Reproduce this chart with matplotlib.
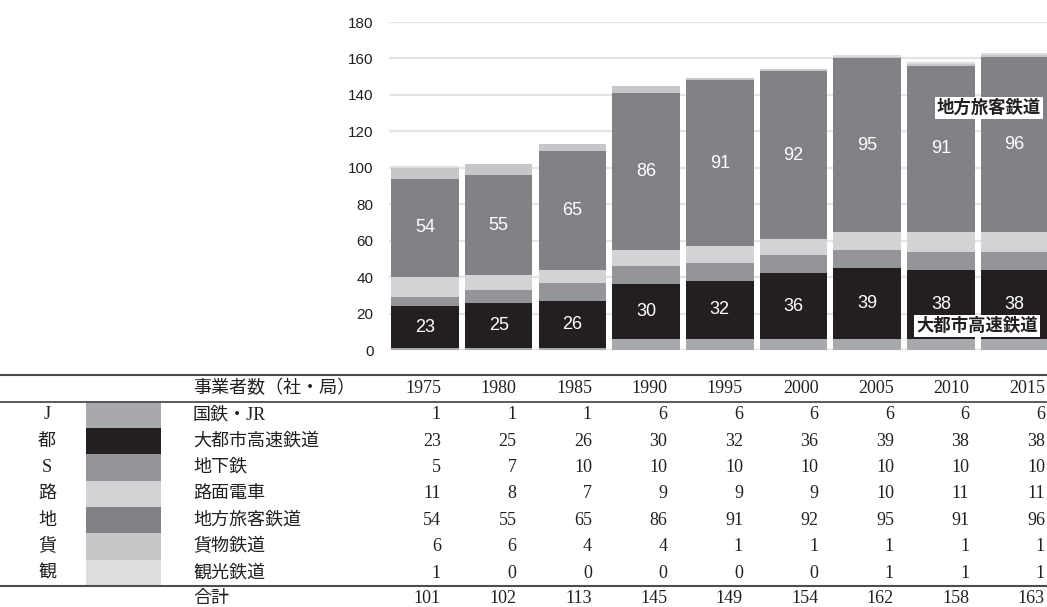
import matplotlib
matplotlib.use("Agg")
import matplotlib.pyplot as plt
import numpy as np

# ---- data ----
years = ["1975", "1980", "1985", "1990", "1995", "2000", "2005", "2010", "2015"]
categories = ["国鉄・JR", "大都市高速鉄道", "地下鉄", "路面電車", "地方旅客鉄道", "貨物鉄道", "観光鉄道"]
short_marks = ["J", "都", "S", "路", "地", "貨", "観"]
jr = [1, 1, 1, 6, 6, 6, 6, 6, 6]
metro_high = [23, 25, 26, 30, 32, 36, 39, 38, 38]
subway = [5, 7, 10, 10, 10, 10, 10, 10, 10]
tram = [11, 8, 7, 9, 9, 9, 10, 11, 11]
regional = [54, 55, 65, 86, 91, 92, 95, 91, 96]
freight = [6, 6, 4, 4, 1, 1, 1, 1, 1]
tourist = [1, 0, 0, 0, 0, 0, 1, 1, 1]
totals = [101, 102, 113, 145, 149, 154, 162, 158, 163]
yticks = [0, 20, 40, 60, 80, 100, 120, 140, 160, 180]

series = [jr, metro_high, subway, tram, regional, freight, tourist]
colors = ["#a7a9ac", "#231f20", "#939598", "#d1d3d4", "#808285", "#c6c7c9", "#dcdddf"]

W, H = 1047, 607
fig = plt.figure(figsize=(W / 100, H / 100), dpi=100)

# ---- stacked bar chart ----
ax_l, ax_r, ax_t, ax_b = 389, 1047, 22, 350
ax = fig.add_axes([ax_l / W, (H - ax_b) / H, (ax_r - ax_l) / W, (ax_b - ax_t) / H])
x = np.arange(len(years))
bottom = np.zeros(len(years))
seg_mid = {}
for i, (vals, c) in enumerate(zip(series, colors)):
    vals = np.array(vals, dtype=float)
    ax.bar(x, vals, width=0.915, bottom=bottom, color=c, linewidth=0, zorder=3)
    seg_mid[i] = bottom + vals / 2
    bottom = bottom + vals

step_px = 73.7
left_units = (425 - ax_l) / step_px
ax.set_xlim(-left_units, -left_units + (ax_r - ax_l) / step_px)
ax.set_ylim(0, 180)
ax.set_yticks(yticks)
ax.yaxis.grid(True, color="#e4e4e4", linewidth=1.6, zorder=0)
ax.set_axisbelow(True)
ax.set_xticks([])
for s in ax.spines.values():
    s.set_visible(False)
ax.tick_params(axis="y", length=0, pad=11, labelsize=11, labelcolor="#231f20")
for lab in ax.get_yticklabels():
    lab.set_fontfamily("Liberation Sans")

for xi in x:
    ax.text(xi, seg_mid[1][xi], str(metro_high[xi]), ha="center", va="center",
            color="white", fontsize=13, family="Liberation Sans", zorder=5)
    ax.text(xi, seg_mid[4][xi], str(regional[xi]), ha="center", va="center",
            color="white", fontsize=13, family="Liberation Sans", zorder=5)

box = dict(boxstyle="square,pad=0.1", facecolor="white", edgecolor="none")
ax.text(7.65, 132.8, "地方旅客鉄道", ha="center", va="center", fontsize=12.5, fontweight="bold",
        family=["Noto Sans CJK JP", "DejaVu Sans"], color="#231f20", bbox=box, zorder=6)
ax.text(7.49, 13.2, "大都市高速鉄道", ha="center", va="center", fontsize=12.5, fontweight="bold",
        family=["Noto Sans CJK JP", "DejaVu Sans"], color="#231f20", bbox=box, zorder=6)

# ---- data table ----
tab = fig.add_axes([0, 0, 1, 1])
tab.set_xlim(0, W)
tab.set_ylim(H, 0)
tab.axis("off")
tfont = ["Liberation Serif", "Noto Sans CJK JP"]
tsize = 13
rule_c = "#4d4d4d"

top_rule, head_rule = 375, 401.6
row_h = 26.37
tab.plot([0, W], [top_rule, top_rule], color=rule_c, lw=1.5)
tab.plot([0, W], [head_rule, head_rule], color=rule_c, lw=1.3)
bottom_rule = head_rule + row_h * len(categories)
tab.plot([0, W], [bottom_rule, bottom_rule], color=rule_c, lw=1.5)

label_x = 193
col_right = [441 + 75.5 * k for k in range(len(years))]

head_y = (top_rule + head_rule) / 2
tab.text(label_x, head_y, "事業者数（社・局）", ha="left", va="center", fontsize=tsize,
         family=tfont, color="#231f20")
for cx, yr in zip(col_right, years):
    tab.text(cx, head_y, yr, ha="right", va="center", fontsize=tsize, family=tfont, color="#231f20")

for r, (mark, name, vals, c) in enumerate(zip(short_marks, categories, series, colors)):
    y0 = head_rule + r * row_h
    yc = y0 + row_h / 2
    tab.add_patch(plt.Rectangle((86, y0), 75, row_h, facecolor=c, edgecolor="none"))
    tab.text(47, yc, mark, ha="center", va="center", fontsize=tsize, family=tfont, color="#231f20")
    tab.text(label_x, yc, name, ha="left", va="center", fontsize=tsize, family=tfont, color="#231f20")
    for cx, v in zip(col_right, vals):
        tab.text(cx, yc, str(v), ha="right", va="center", fontsize=tsize, family=tfont, color="#231f20")

tot_y = bottom_rule + 12
tab.text(label_x, tot_y, "合計", ha="left", va="center", fontsize=tsize, family=tfont, color="#231f20")
for cx, v in zip(col_right, totals):
    tab.text(cx, tot_y, str(v), ha="right", va="center", fontsize=tsize, family=tfont, color="#231f20")

fig.savefig("out.png", dpi=100)
